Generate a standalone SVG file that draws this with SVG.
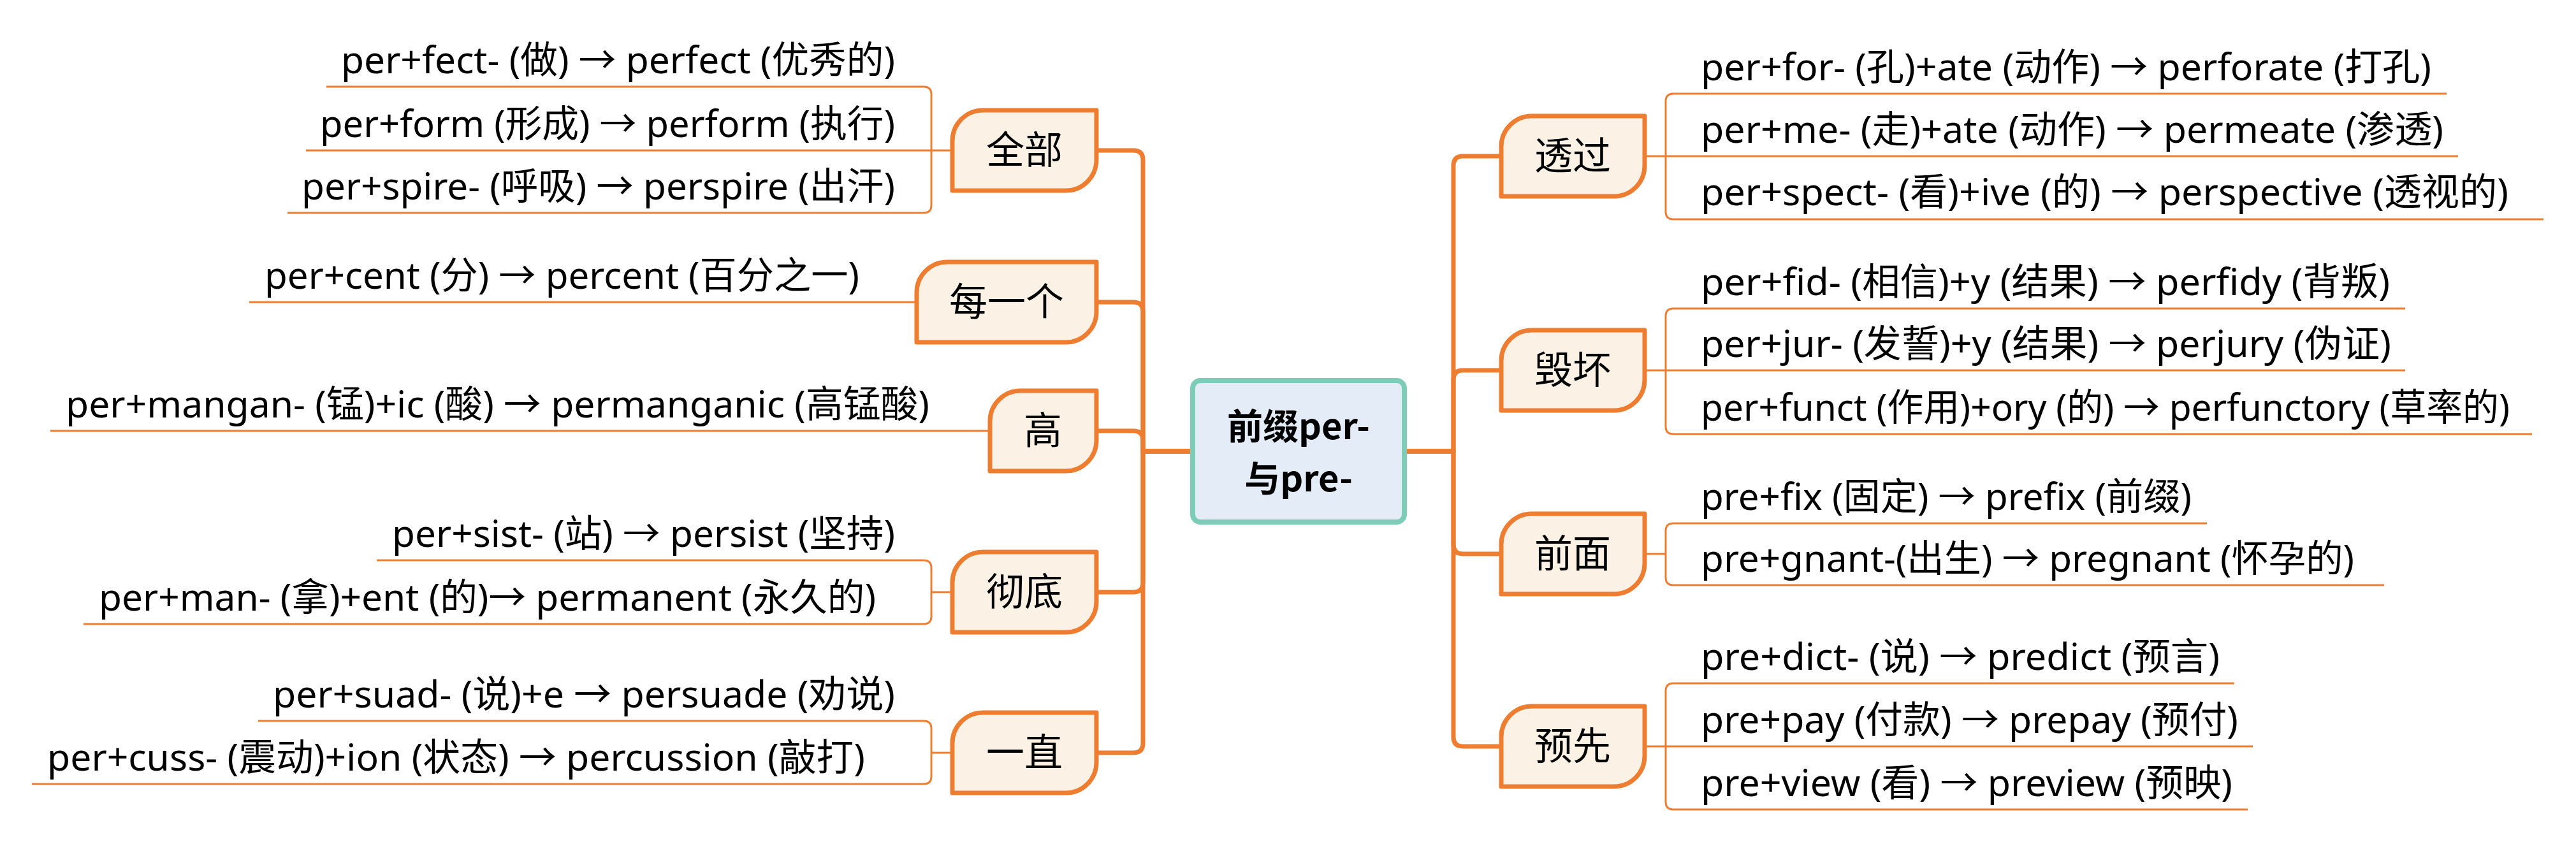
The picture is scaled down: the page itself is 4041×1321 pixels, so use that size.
<svg xmlns="http://www.w3.org/2000/svg" width="4041" height="1321" viewBox="0 0 4041 1321">
<style>
.bg{fill:#ffffff}
.trunk{fill:none;stroke:#ED7D31;stroke-width:7;stroke-linecap:butt;stroke-linejoin:round}
.thin{fill:none;stroke:#ED7D31;stroke-width:3}
.node{fill:#FCF1E5;stroke:#ED7D31;stroke-width:7;stroke-linejoin:round}
.root{fill:#E4ECF7;stroke:#7DCCB8;stroke-width:8}
.lbl{font-family:"Noto Sans CJK SC","Noto Sans",sans-serif;font-size:60px;fill:#000;text-anchor:middle}
.rootlbl{font-family:"Noto Sans CJK SC","Noto Sans",sans-serif;font-size:56px;font-weight:bold;fill:#000;text-anchor:middle}
.leaf{font-family:"Noto Sans","Noto Sans CJK SC",sans-serif;font-size:59px;fill:#000}
</style>
<rect class="bg" x="0" y="0" width="4041" height="1321"/>
<g id="connectors">
  <path class="trunk" d="M1868,708 H1793 V251 Q1793,236 1778,236 H1720"/>
  <path class="trunk" d="M1868,708 H1793 V489 Q1793,474 1778,474 H1720"/>
  <path class="trunk" d="M1868,708 H1793 V691 Q1793,676 1778,676 H1720"/>
  <path class="trunk" d="M1868,708 H1793 V914 Q1793,929 1778,929 H1720"/>
  <path class="trunk" d="M1868,708 H1793 V1166 Q1793,1181 1778,1181 H1720"/>
  <path class="trunk" d="M2207,708 H2280 V260 Q2280,245 2295,245 H2355"/>
  <path class="trunk" d="M2207,708 H2280 V596 Q2280,581 2295,581 H2355"/>
  <path class="trunk" d="M2207,708 H2280 V854 Q2280,869 2295,869 H2355"/>
  <path class="trunk" d="M2207,708 H2280 V1156 Q2280,1171 2295,1171 H2355"/>
  <path class="thin" d="M512,136 H1449 Q1461,136 1461,148 V322 Q1461,334 1449,334 H451"/>
  <path class="thin" d="M480,236 H1494"/>
  <path class="thin" d="M391,474 H1438"/>
  <path class="thin" d="M79,676 H1553"/>
  <path class="thin" d="M591,879 H1449 Q1461,879 1461,891 V967 Q1461,979 1449,979 H131"/>
  <path class="thin" d="M1461,929 H1494"/>
  <path class="thin" d="M405,1131 H1449 Q1461,1131 1461,1143 V1218 Q1461,1230 1449,1230 H50"/>
  <path class="thin" d="M1461,1181 H1494"/>
  <path class="thin" d="M3838,147 H2625 Q2613,147 2613,159 V332 Q2613,344 2625,344 H3990"/>
  <path class="thin" d="M2580,245 H3856"/>
  <path class="thin" d="M3773,484 H2625 Q2613,484 2613,496 V669 Q2613,681 2625,681 H3972"/>
  <path class="thin" d="M2580,581 H3773"/>
  <path class="thin" d="M3462,821 H2625 Q2613,821 2613,833 V906 Q2613,918 2625,918 H3740"/>
  <path class="thin" d="M2580,869 H2613"/>
  <path class="thin" d="M3505,1072 H2625 Q2613,1072 2613,1084 V1258 Q2613,1270 2625,1270 H3526"/>
  <path class="thin" d="M2580,1171 H3534"/>
</g>
<g id="root">
  <rect class="root" x="1871" y="597" width="332" height="222" rx="12"/>
  <text class="rootlbl" x="2037" y="689">前缀per-</text>
  <text class="rootlbl" x="2037" y="771">与pre-</text>
</g>
<g id="n-quanbu">
  <path class="node" d="M1494,221 A48,48 0 0 1 1542,173 H1720 V251 A48,48 0 0 1 1672,299 H1494 Z"/>
  <text class="lbl" x="1607" y="257">全部</text>
</g>
<g id="n-meiyige">
  <path class="node" d="M1438,459 A48,48 0 0 1 1486,411 H1720 V489 A48,48 0 0 1 1672,537 H1438 Z"/>
  <text class="lbl" x="1579" y="495">每一个</text>
</g>
<g id="n-gao">
  <path class="node" d="M1553,661 A48,48 0 0 1 1601,613 H1720 V691 A48,48 0 0 1 1672,739 H1553 Z"/>
  <text class="lbl" x="1636" y="697">高</text>
</g>
<g id="n-chedi">
  <path class="node" d="M1494,914 A48,48 0 0 1 1542,866 H1720 V944 A48,48 0 0 1 1672,992 H1494 Z"/>
  <text class="lbl" x="1607" y="950">彻底</text>
</g>
<g id="n-yizhi">
  <path class="node" d="M1494,1166 A48,48 0 0 1 1542,1118 H1720 V1196 A48,48 0 0 1 1672,1244 H1494 Z"/>
  <text class="lbl" x="1607" y="1202">一直</text>
</g>
<g id="n-touguo">
  <path class="node" d="M2355,230 A48,48 0 0 1 2403,182 H2580 V260 A48,48 0 0 1 2532,308 H2355 Z"/>
  <text class="lbl" x="2467" y="266">透过</text>
</g>
<g id="n-huihuai">
  <path class="node" d="M2355,566 A48,48 0 0 1 2403,518 H2580 V596 A48,48 0 0 1 2532,644 H2355 Z"/>
  <text class="lbl" x="2467" y="602">毁坏</text>
</g>
<g id="n-qianmian">
  <path class="node" d="M2355,854 A48,48 0 0 1 2403,806 H2580 V884 A48,48 0 0 1 2532,932 H2355 Z"/>
  <text class="lbl" x="2467" y="890">前面</text>
</g>
<g id="n-yuxian">
  <path class="node" d="M2355,1156 A48,48 0 0 1 2403,1108 H2580 V1186 A48,48 0 0 1 2532,1234 H2355 Z"/>
  <text class="lbl" x="2467" y="1192">预先</text>
</g>
<g id="leaves-left">
  <text class="leaf" x="535" y="115" textLength="869" lengthAdjust="spacingAndGlyphs">per+fect- (做) → perfect (优秀的)</text>
  <text class="leaf" x="502" y="215" textLength="902" lengthAdjust="spacingAndGlyphs">per+form (形成) → perform (执行)</text>
  <text class="leaf" x="473" y="313" textLength="931" lengthAdjust="spacingAndGlyphs">per+spire- (呼吸) → perspire (出汗)</text>
  <text class="leaf" x="415" y="453" textLength="933" lengthAdjust="spacingAndGlyphs">per+cent (分) → percent (百分之一)</text>
  <text class="leaf" x="103" y="655" textLength="1355" lengthAdjust="spacingAndGlyphs">per+mangan- (锰)+ic (酸) → permanganic (高锰酸)</text>
  <text class="leaf" x="615" y="858" textLength="789" lengthAdjust="spacingAndGlyphs">per+sist- (站) → persist (坚持)</text>
  <text class="leaf" x="155" y="958" textLength="1219" lengthAdjust="spacingAndGlyphs">per+man- (拿)+ent (的)→ permanent (永久的)</text>
  <text class="leaf" x="428" y="1110" textLength="976" lengthAdjust="spacingAndGlyphs">per+suad- (说)+e → persuade (劝说)</text>
  <text class="leaf" x="74" y="1209" textLength="1283" lengthAdjust="spacingAndGlyphs">per+cuss- (震动)+ion (状态) → percussion (敲打)</text>
</g>
<g id="leaves-right">
  <text class="leaf" x="2668" y="126" textLength="1146" lengthAdjust="spacingAndGlyphs">per+for- (孔)+ate (动作) → perforate (打孔)</text>
  <text class="leaf" x="2668" y="224" textLength="1165" lengthAdjust="spacingAndGlyphs">per+me- (走)+ate (动作) → permeate (渗透)</text>
  <text class="leaf" x="2668" y="322" textLength="1267" lengthAdjust="spacingAndGlyphs">per+spect- (看)+ive (的) → perspective (透视的)</text>
  <text class="leaf" x="2668" y="463" textLength="1081" lengthAdjust="spacingAndGlyphs">per+fid- (相信)+y (结果) → perfidy (背叛)</text>
  <text class="leaf" x="2668" y="560" textLength="1083" lengthAdjust="spacingAndGlyphs">per+jur- (发誓)+y (结果) → perjury (伪证)</text>
  <text class="leaf" x="2668" y="660" textLength="1269" lengthAdjust="spacingAndGlyphs">per+funct (作用)+ory (的) → perfunctory (草率的)</text>
  <text class="leaf" x="2668" y="800" textLength="770" lengthAdjust="spacingAndGlyphs">pre+fix (固定) → prefix (前缀)</text>
  <text class="leaf" x="2668" y="897" textLength="1025" lengthAdjust="spacingAndGlyphs">pre+gnant-(出生) → pregnant (怀孕的)</text>
  <text class="leaf" x="2668" y="1051" textLength="814" lengthAdjust="spacingAndGlyphs">pre+dict- (说) → predict (预言)</text>
  <text class="leaf" x="2668" y="1150" textLength="843" lengthAdjust="spacingAndGlyphs">pre+pay (付款) → prepay (预付)</text>
  <text class="leaf" x="2668" y="1249" textLength="834" lengthAdjust="spacingAndGlyphs">pre+view (看) → preview (预映)</text>
</g>
</svg>
